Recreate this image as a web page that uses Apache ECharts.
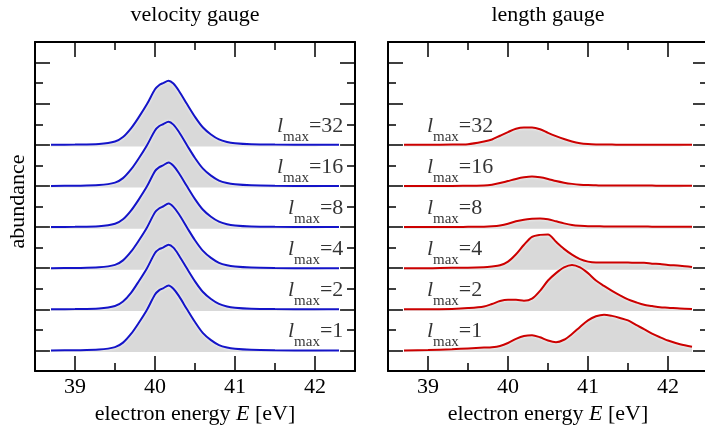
<!DOCTYPE html>
<html>
<head>
<meta charset="utf-8">
<script src="https://cdn.jsdelivr.net/npm/echarts@6/dist/echarts.min.js"></script>
<style>
html, body { margin: 0; padding: 0; background: #fff; }
#chart { width: 705px; height: 426px; }
</style>
</head>
<body>
<div id="chart"></div>
<script>
var lmaxLabels = ['1', '2', '4', '8', '16', '32'];
var xTicks = [39, 40, 41, 42];
var xMinorTicks = [39.5, 40.5, 41.5];
var yTicks = [0, 1, 2, 3, 4, 5, 6, 7];
var yMinorTicks = [0.5, 1.5, 2.5, 3.5, 4.5, 5.5, 6.5];

// velocity gauge
var velEnergy = [38.7, 39.0, 39.3, 39.5, 39.6, 39.7, 39.8, 39.9, 40.0, 40.05, 40.1, 40.17, 40.23, 40.3, 40.4, 40.5, 40.6, 40.7, 40.8, 40.9, 41.0, 41.2, 41.5, 42.0, 42.3];
var vel1  = [0, 0.005, 0.02, 0.08, 0.19, 0.40, 0.68, 0.99, 1.36, 1.46, 1.51, 1.58, 1.50, 1.32, 1.00, 0.69, 0.42, 0.25, 0.13, 0.07, 0.04, 0.015, 0.005, 0, 0];
var vel2  = [0, 0.005, 0.02, 0.08, 0.19, 0.40, 0.69, 1.00, 1.37, 1.46, 1.50, 1.57, 1.50, 1.31, 0.99, 0.68, 0.42, 0.25, 0.13, 0.07, 0.04, 0.015, 0.005, 0, 0];
var vel4  = [0, 0.005, 0.02, 0.08, 0.19, 0.40, 0.68, 0.99, 1.36, 1.45, 1.50, 1.57, 1.49, 1.31, 0.99, 0.68, 0.42, 0.25, 0.13, 0.07, 0.04, 0.015, 0.005, 0, 0];
var vel8  = [0, 0.005, 0.02, 0.08, 0.19, 0.40, 0.68, 0.99, 1.36, 1.45, 1.50, 1.57, 1.49, 1.31, 0.99, 0.68, 0.42, 0.25, 0.13, 0.07, 0.04, 0.015, 0.005, 0, 0];
var vel16 = [0, 0.005, 0.02, 0.08, 0.19, 0.40, 0.68, 0.99, 1.35, 1.45, 1.50, 1.56, 1.49, 1.31, 0.99, 0.68, 0.42, 0.25, 0.13, 0.07, 0.04, 0.015, 0.005, 0, 0];
var vel32 = [0, 0.005, 0.02, 0.08, 0.19, 0.40, 0.68, 0.99, 1.35, 1.45, 1.50, 1.56, 1.49, 1.31, 0.99, 0.68, 0.42, 0.25, 0.13, 0.07, 0.04, 0.015, 0.005, 0, 0];

// length gauge
var lenEnergy = [38.7, 39.0, 39.3, 39.5, 39.7, 39.8, 39.9, 40.0, 40.1, 40.2, 40.3, 40.4, 40.5, 40.6, 40.7, 40.8, 40.9, 41.0, 41.1, 41.2, 41.3, 41.4, 41.5, 41.6, 41.7, 41.8, 41.9, 42.0, 42.15, 42.3];
var len1  = [0, 0.01, 0.03, 0.05, 0.07, 0.08, 0.11, 0.18, 0.28, 0.35, 0.37, 0.32, 0.24, 0.20, 0.26, 0.40, 0.57, 0.73, 0.83, 0.87, 0.84, 0.79, 0.73, 0.62, 0.52, 0.41, 0.32, 0.24, 0.15, 0.09];
var len2  = [0, 0, 0.01, 0.03, 0.07, 0.13, 0.20, 0.23, 0.23, 0.21, 0.26, 0.45, 0.70, 0.88, 1.02, 1.08, 1.02, 0.88, 0.70, 0.57, 0.45, 0.34, 0.24, 0.17, 0.11, 0.08, 0.05, 0.04, 0.02, 0.01];
var len4  = [0, 0, 0.01, 0.01, 0.02, 0.04, 0.07, 0.16, 0.34, 0.57, 0.76, 0.81, 0.82, 0.64, 0.47, 0.33, 0.22, 0.16, 0.14, 0.14, 0.14, 0.14, 0.14, 0.13, 0.13, 0.11, 0.10, 0.08, 0.06, 0.03];
var len8  = [0, 0, 0, 0.005, 0.01, 0.02, 0.04, 0.08, 0.14, 0.18, 0.20, 0.21, 0.19, 0.14, 0.09, 0.05, 0.03, 0.02, 0.02, 0.015, 0.015, 0.015, 0.015, 0.015, 0.015, 0.01, 0.01, 0.01, 0.01, 0.01];
var len16 = [0, 0, 0, 0.005, 0.01, 0.03, 0.07, 0.12, 0.17, 0.21, 0.23, 0.21, 0.17, 0.12, 0.08, 0.05, 0.03, 0.02, 0.015, 0.01, 0.01, 0.01, 0.01, 0.01, 0.01, 0.01, 0.005, 0.005, 0.005, 0.005];
var len32 = [0, 0, 0.005, 0.015, 0.08, 0.13, 0.22, 0.31, 0.39, 0.42, 0.42, 0.38, 0.29, 0.21, 0.14, 0.08, 0.04, 0.02, 0.01, 0.005, 0.005, 0, 0, 0, 0, 0, 0, 0, 0, 0];

var velocity = [vel1, vel2, vel4, vel8, vel16, vel32];
var length = [len1, len2, len4, len8, len16, len32];

var FONT = '"Liberation Serif", "DejaVu Serif", serif';
var BLUE = '#1414c8';
var RED = '#cc0000';
var FILL = '#d9d9d9';

var chart = echarts.init(document.getElementById('chart'));

// one axis = one set of ticks; major and minor ticks are separate overlaid axes
function xAxis(grid, pos, ticks, len, main) {
    return {
        type: 'value', gridIndex: grid, position: pos, min: 38.5, max: 42.5,
        axisLine: { show: main, onZero: false, lineStyle: { color: '#000', width: 2 } },
        axisTick: { show: true, inside: true, length: len, customValues: ticks, lineStyle: { color: '#000', width: 1.5 } },
        axisLabel: { show: main && pos === 'bottom', customValues: xTicks, margin: 5, color: '#000', fontFamily: FONT, fontSize: 22 },
        splitLine: { show: false },
        name: main && pos === 'bottom' ? 'electron energy {i|E} [eV]' : '',
        nameLocation: 'middle', nameGap: 27,
        nameTextStyle: { color: '#000', fontFamily: FONT, fontSize: 22,
            rich: { i: { fontStyle: 'italic', fontFamily: FONT, fontSize: 22, color: '#000' } } }
    };
}

function yAxis(grid, pos, ticks, len, main, name) {
    return {
        type: 'value', gridIndex: grid, position: pos, min: -0.5, max: 7.5,
        axisLine: { show: main, onZero: false, lineStyle: { color: '#000', width: 2 } },
        axisTick: { show: true, inside: true, length: len, customValues: ticks, lineStyle: { color: '#000', width: 1.5 } },
        axisLabel: { show: false },
        splitLine: { show: false },
        name: name || '', nameLocation: 'middle', nameGap: 6,
        nameTextStyle: { color: '#000', fontFamily: FONT, fontSize: 22, padding: [0, 0, 0, 10] }
    };
}

var xAxes = [], yAxes = [];
[0, 1].forEach(function (g) {
    xAxes.push(xAxis(g, 'bottom', xTicks, 15, true));
    xAxes.push(xAxis(g, 'bottom', xMinorTicks, 8, false));
    xAxes.push(xAxis(g, 'top', xTicks, 15, true));
    xAxes.push(xAxis(g, 'top', xMinorTicks, 8, false));
    yAxes.push(yAxis(g, 'left', yTicks, 15, true, g === 0 ? 'abundance' : ''));
    yAxes.push(yAxis(g, 'left', yMinorTicks, 8, false));
    yAxes.push(yAxis(g, 'right', yTicks, 15, true));
    yAxes.push(yAxis(g, 'right', yMinorTicks, 8, false));
});

function curve(energy, values, base, color, axis) {
    return {
        type: 'line', xAxisIndex: axis, yAxisIndex: axis,
        data: energy.map(function (e, i) { return [e, base + values[i]]; }),
        showSymbol: false, smooth: 0.3, silent: true,
        lineStyle: { color: color, width: 2, shadowColor: '#fff', shadowBlur: 3 },
        areaStyle: { color: FILL, opacity: 1, origin: base - 0.04 }
    };
}

function labels(axis, x, pos) {
    return {
        type: 'scatter', xAxisIndex: axis, yAxisIndex: axis, z: 10, silent: true,
        symbolSize: 1, itemStyle: { color: 'rgba(0,0,0,0)' },
        data: lmaxLabels.map(function (l, k) { return { value: [x, k + 0.46], name: l }; }),
        label: {
            show: true, position: pos, distance: 0,
            formatter: function (p) { return '{l|l}{s|max}{e|=' + p.name + '}'; },
            rich: {
                l: { fontFamily: FONT, fontStyle: 'italic', fontSize: 22, color: '#000' },
                s: { fontFamily: FONT, fontSize: 15, color: '#000', padding: [22, 0, 0, 0] },
                e: { fontFamily: FONT, fontSize: 22, color: '#000' }
            }
        }
    };
}

var series = [];
for (var k = 5; k >= 0; k--) {
    series.push(curve(velEnergy, velocity[k], k, BLUE, 0));
}
for (var k = 5; k >= 0; k--) {
    series.push(curve(lenEnergy, length[k], k, RED, 4));
}
series.push(labels(0, 42.36, 'left'));
series.push(labels(4, 38.98, 'right'));

chart.setOption({
    animation: false,
    title: [
        { text: 'velocity gauge', left: 195, top: 4, padding: 0, textAlign: 'center',
          textStyle: { fontFamily: FONT, fontSize: 22, fontWeight: 'normal', color: '#000' } },
        { text: 'length gauge', left: 548, top: 4, padding: 0, textAlign: 'center',
          textStyle: { fontFamily: FONT, fontSize: 22, fontWeight: 'normal', color: '#000' } }
    ],
    grid: [
        { left: 35, top: 42, width: 320, height: 329, outerBoundsMode: 'none' },
        { left: 388, top: 42, width: 320, height: 329, outerBoundsMode: 'none' }
    ],
    xAxis: xAxes,
    yAxis: yAxes,
    series: series
});
</script>
</body>
</html>
